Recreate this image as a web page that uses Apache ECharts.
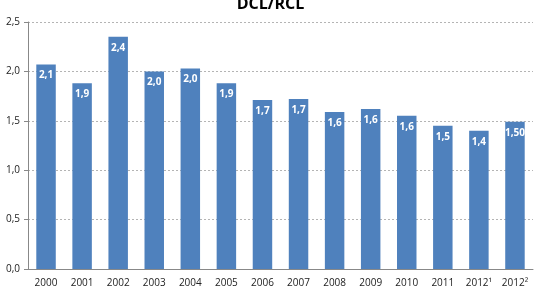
<!DOCTYPE html>
<html>
<head>
<meta charset="utf-8">
<script src="https://cdn.jsdelivr.net/npm/echarts@6/dist/echarts.min.js"></script>
<style>
html, body { margin: 0; padding: 0; background: #fff; }
#chart { width: 541px; height: 298px; }
</style>
</head>
<body>
<div id="chart"></div>
<script>
// data
let years = ["2000","2001","2002","2003","2004","2005","2006","2007","2008","2009","2010","2011","2012\u00b9","2012\u00b2"];
let values = [2.07, 1.88, 2.35, 2.00, 2.03, 1.88, 1.71, 1.72, 1.59, 1.62, 1.55, 1.45, 1.40, 1.49];
let labels = ["2,1","1,9","2,4","2,0","2,0","1,9","1,7","1,7","1,6","1,6","1,6","1,5","1,4","1,50"];
let yTicks = [0, 0.5, 1, 1.5, 2, 2.5];

let chart = echarts.init(document.getElementById('chart'));

let option = {
    animation: false,
    textStyle: { fontFamily: 'Open Sans, sans-serif' },
    title: {
        text: 'DCL/RCL',
        left: 'center',
        top: -9,
        textStyle: { fontSize: 16, fontWeight: 'bold', color: '#000' }
    },
    grid: { left: 28, right: 8, top: 22, bottom: 29 },
    xAxis: {
        type: 'category',
        data: years,
        axisLine: { lineStyle: { color: '#888' } },
        axisTick: { lineStyle: { color: '#888' }, length: 4 },
        axisLabel: { color: '#222', fontSize: 10, margin: 9 }
    },
    yAxis: {
        type: 'value',
        min: 0,
        max: yTicks[yTicks.length - 1],
        interval: 0.5,
        axisLine: { show: true, lineStyle: { color: '#888' } },
        axisTick: { show: true, length: 4, lineStyle: { color: '#888' } },
        axisLabel: {
            color: '#222', fontSize: 10, margin: 8,
            formatter: function (v) { return v.toFixed(1).replace('.', ','); }
        },
        splitLine: { lineStyle: { color: '#b4b4b4', type: [2, 2] } }
    },
    series: [{
        type: 'bar',
        data: values,
        barCategoryGap: '46%',
        itemStyle: { color: '#4F81BD' },
        label: {
            show: true,
            position: 'insideTop',
            distance: 6,
            color: '#fff',
            fontSize: 10,
            fontWeight: 'bold',
            formatter: function (p) { return labels[p.dataIndex]; }
        }
    }]
};

chart.setOption(option);
</script>
</body>
</html>
